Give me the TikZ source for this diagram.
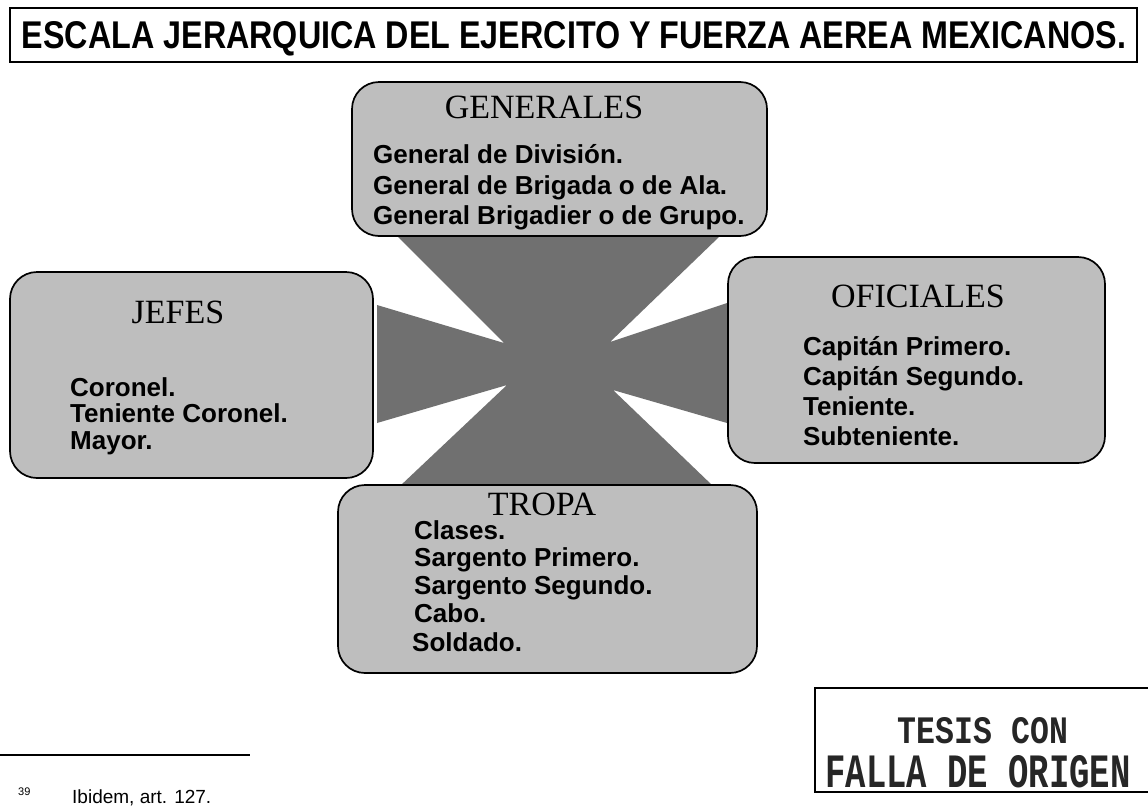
\documentclass[tikz,border=0pt]{standalone}
\usepackage{fontspec}
\setmainfont{Liberation Serif}
\newfontfamily\arial{Liberation Sans}
\newfontfamily\stampfont{Liberation Mono}
\definecolor{boxgray}{HTML}{BEBEBE}
\definecolor{xgray}{HTML}{707070}
\tikzset{
  rbox/.style={draw=black, line width=1.7pt, fill=boxgray, rounded corners=27pt, inner sep=0pt},
  head/.style={font=\fontsize{34}{34}\selectfont, inner sep=0pt, anchor=base},
  item/.style={font=\arial\bfseries\fontsize{26}{26}\selectfont, inner sep=0pt, anchor=base west},
}
\begin{document}
\begin{tikzpicture}[x=1pt,y=-1pt]
\useasboundingbox (0,0) rectangle (1148,809);
\fill[white] (0,0) rectangle (1148,809);
% title
\node[draw=black, line width=1.4pt, minimum width=1127pt, minimum height=54pt, inner sep=0pt] (titlebox) at (573.5,35) {};
\node[inner sep=0pt, anchor=base] (title) at (574,48) {\resizebox{1104pt}{27pt}{\arial\bfseries ESCALA JERARQUICA DEL EJERCITO Y FUERZA AEREA MEXICANOS.}};
% central X
\fill[xgray] (397,236) -- (504,343) -- (377,305) -- (377,423) -- (507,385) -- (400,486)
  -- (713,486) -- (613,390) -- (727,423) -- (727,303) -- (610,342) -- (720,236) -- cycle;
% boxes
\node[rbox, minimum width=415pt, minimum height=154pt] (gen) at (559.5,159) {};
\node[rbox, minimum width=363pt, minimum height=206pt] (jef) at (191.5,375) {};
\node[rbox, minimum width=377pt, minimum height=206pt] (ofi) at (916.5,360) {};
\node[rbox, minimum width=419pt, minimum height=188pt] (tro) at (547.5,579) {};
% GENERALES
\node[head] (genh) at (544,118) {GENERALES};
\node[item] (gen1) at (373,163) {General de División.};
\node[item] (gen2) at (373,194) {General de Brigada o de Ala.};
\node[item] (gen3) at (373,224) {General Brigadier o de Grupo.};
% JEFES
\node[head] (jefh) at (178,323) {JEFES};
\node[item] (jef1) at (70,396) {Coronel.};
\node[item] (jef2) at (70,422) {Teniente Coronel.};
\node[item] (jef3) at (70,449) {Mayor.};
% OFICIALES
\node[head] (ofih) at (918,307) {OFICIALES};
\node[item] (ofi1) at (803,355) {Capitán Primero.};
\node[item] (ofi2) at (803,385) {Capitán Segundo.};
\node[item] (ofi3) at (803,415) {Teniente.};
\node[item] (ofi4) at (803,445) {Subteniente.};
% TROPA
\node[head] (troh) at (542,515) {TROPA};
\node[item] (tro1) at (414,539) {Clases.};
\node[item] (tro2) at (414,566) {Sargento Primero.};
\node[item] (tro3) at (414,594) {Sargento Segundo.};
\node[item] (tro4) at (414,622) {Cabo.};
\node[item] (tro5) at (412,651) {Soldado.};
% footnote
\coordinate (fnL) at (0,755);
\coordinate (fnR) at (250,755);
\draw[line width=1.3pt] (fnL) -- (fnR);
\node[inner sep=0pt, anchor=base west, font=\arial\fontsize{11}{11}\selectfont] (fnnum) at (18,795) {39};
\node[inner sep=0pt, anchor=base west, font=\arial\fontsize{19}{19}\selectfont] (fntext) at (72,803) {Ibidem, art. 127.};
% stamp
\coordinate (s1) at (1148,688);
\coordinate (s2) at (815,688);
\coordinate (s3) at (815,792);
\coordinate (s4) at (1148,792);
\draw[line width=1.8pt] (s1) -- (s2) -- (s3) -- (s4);
\node[inner sep=0pt, anchor=base, text=black!85] (tesis1) at (983,743) {\resizebox{170pt}{26pt}{\stampfont\bfseries TESIS CON}};
\node[inner sep=0pt, anchor=base, text=black!85] (tesis2) at (978,787) {\resizebox{305pt}{32pt}{\stampfont\bfseries FALLA DE ORIGEN}};
\end{tikzpicture}
\end{document}
